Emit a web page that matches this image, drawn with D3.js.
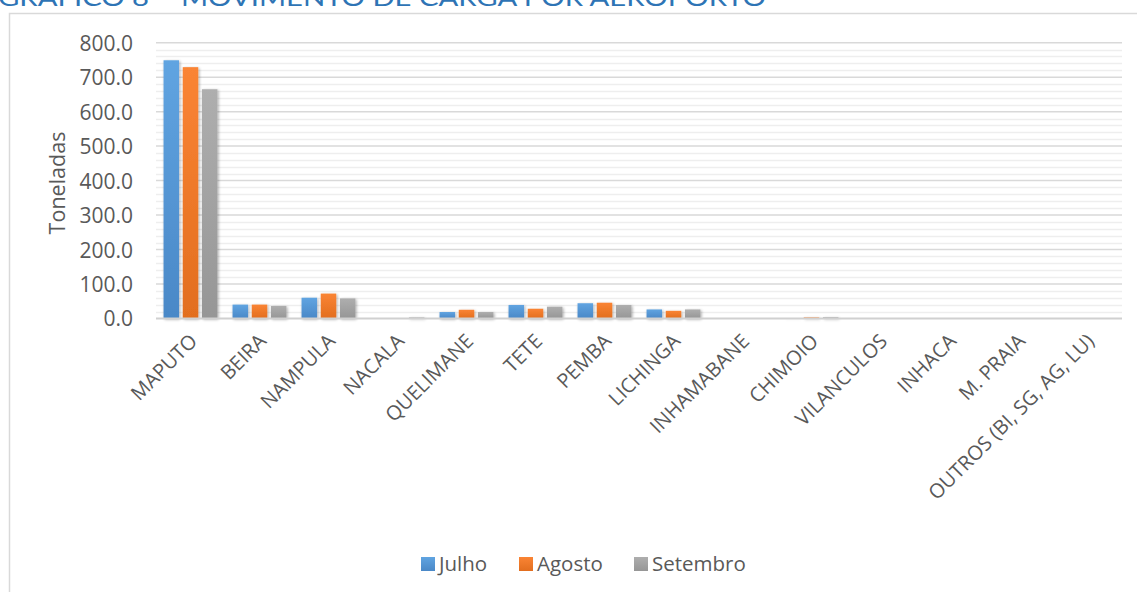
<!DOCTYPE html>
<html><head><meta charset="utf-8">
<script src="https://cdn.jsdelivr.net/npm/d3@7"></script>
<style>body{margin:0;background:#fff;}svg{display:block;}</style>
</head><body>
<svg id="c" width="1137" height="592"></svg>
<script>
const categories = ["MAPUTO","BEIRA","NAMPULA","NACALA","QUELIMANE","TETE","PEMBA","LICHINGA","INHAMABANE","CHIMOIO","VILANCULOS","INHACA","M. PRAIA","OUTROS (BI, SG, AG, LU)"];
const seriesNames = ["Julho","Agosto","Setembro"];
const julho    = [749, 40, 60, 0, 18.5, 39, 44, 26, 0, 0.5, 0, 0, 0, 0];
const agosto   = [729, 40, 72, 0, 25, 28, 45.5, 22, 0, 3, 0, 0, 0, 0];
const setembro = [665, 36, 58, 3, 18.5, 34, 39, 26, 0, 3.5, 0, 0, 0, 0];
const yTicks = [0,100,200,300,400,500,600,700,800];
const colors = ["#5B9BD5","#ED7D31","#A5A5A5"];
const colorsDark = ["#4A88C7","#E26E1F","#969696"];
const title = "GRÁFICO 8 – MOVIMENTO DE CARGA POR AEROPORTO";

const svg = d3.select("#c");
const font = "'Open Sans', sans-serif";
const defs = svg.append("defs");
colors.forEach((c,i)=>{
  const g = defs.append("linearGradient").attr("id","g"+i).attr("x1",0).attr("y1",0).attr("x2",0).attr("y2",1);
  g.append("stop").attr("offset","0%").attr("stop-color",d3.color(c).brighter(0.15));
  g.append("stop").attr("offset","100%").attr("stop-color",colorsDark[i]);
});
const f = defs.append("filter").attr("id","sh").attr("x","-30%").attr("y","-10%").attr("width","160%").attr("height","130%");
f.append("feGaussianBlur").attr("in","SourceAlpha").attr("stdDeviation",1.6).attr("result","b");
f.append("feOffset").attr("in","b").attr("dx",1).attr("dy",1).attr("result","o");
f.append("feComponentTransfer").attr("in","o").attr("result","o2").append("feFuncA").attr("type","linear").attr("slope",0.35);
const m = f.append("feMerge"); m.append("feMergeNode").attr("in","o2"); m.append("feMergeNode").attr("in","SourceGraphic");

// title (cut off at top, as in the reference)
svg.append("text").attr("x",-2).attr("y",6).attr("font-family","Lato, sans-serif").attr("font-size",24)
  .attr("fill","#2E74B5").attr("textLength",768).attr("lengthAdjust","spacingAndGlyphs").text(title);

// frame
svg.append("rect").attr("x",9.5).attr("y",13.5).attr("width",1140).attr("height",600)
  .attr("fill","#fff").attr("stroke","#d9d9d9").attr("stroke-width",1.5);

const L=156, R=1122, T=42.7, B=318.4;
const x = d3.scaleBand().domain(categories).range([L,R]);
const y = d3.scaleLinear().domain([0,800]).range([B,T]);

// minor gridlines
const minor = d3.range(20,800,20).filter(v=>v%100!==0);
svg.append("g").selectAll("line").data(minor).join("line")
  .attr("x1",L).attr("x2",R).attr("y1",d=>Math.round(y(d))+0.5).attr("y2",d=>Math.round(y(d))+0.5)
  .attr("stroke","#eeeeee").attr("stroke-width",1.5);
// major gridlines
svg.append("g").selectAll("line").data(yTicks.filter(d=>d>0)).join("line")
  .attr("x1",L).attr("x2",R).attr("y1",d=>y(d)).attr("y2",d=>y(d))
  .attr("stroke","#d9d9d9").attr("stroke-width",1.5);

// y axis labels
const yAxis = d3.axisLeft(y).tickValues(yTicks).tickFormat(d3.format(".1f")).tickSize(0).tickPadding(0);
const ya = svg.append("g").attr("transform",`translate(${133},0)`).call(yAxis);
ya.select(".domain").remove();
ya.selectAll("text").attr("font-family",font).attr("font-size",21).attr("fill","#595959").attr("dy","0.36em");

svg.append("text").attr("transform",`translate(65,${183}) rotate(-90)`).attr("text-anchor","middle")
  .attr("font-family",font).attr("font-size",21.5).attr("fill","#595959").text("Toneladas");

// bars
const seriesData = [julho, agosto, setembro];
const bw = 15.5, gap = 3.7;
const groupW = 3*bw + 2*gap;
seriesData.forEach((vals,si)=>{
  svg.append("g").attr("filter","url(#sh)").selectAll("rect").data(categories).join("rect")
    .attr("x",(c)=>x(c)+x.bandwidth()/2-groupW/2+si*(bw+gap))
    .attr("width",bw)
    .attr("y",(c,i)=>y(vals[i]))
    .attr("height",(c,i)=>B-y(vals[i]))
    .attr("fill",`url(#g${si})`);
});

// baseline
svg.append("line").attr("x1",L).attr("x2",R).attr("y1",B).attr("y2",B).attr("stroke","#d0d0d0").attr("stroke-width",2);

// x labels
const xAxis = d3.axisBottom(x).tickSize(0).tickPadding(0);
const xa = svg.append("g").attr("transform",`translate(0,${B})`).call(xAxis);
xa.select(".domain").remove();
xa.selectAll("text").attr("font-family",font).attr("font-size",20).attr("fill","#595959")
  .attr("text-anchor","end").attr("dy",null).attr("y",0)
  .attr("transform","translate(8,24) rotate(-45)");

// legend
const legX = [421, 519, 634];
const leg = svg.append("g");
seriesNames.forEach((n,i)=>{
  leg.append("rect").attr("x",legX[i]).attr("y",557).attr("width",14).attr("height",14).attr("fill",`url(#g${i})`);
  leg.append("text").attr("x",legX[i]+18).attr("y",571).attr("font-family",font).attr("font-size",20.5)
    .attr("fill","#595959").text(n);
});
</script>
</body></html>
